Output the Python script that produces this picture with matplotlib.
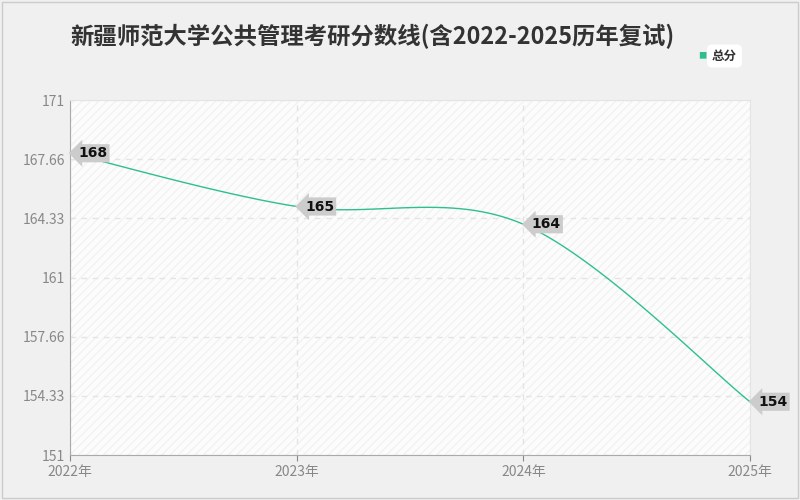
import numpy as np
import matplotlib
matplotlib.use("Agg")
import matplotlib.pyplot as plt

plt.rcParams['font.family'] = ['Noto Sans CJK SC', 'DejaVu Sans']

years = ["2022年", "2023年", "2024年", "2025年"]
scores = [168, 165, 164, 154]
yticks = [151, 154.33, 157.66, 161, 164.33, 167.66, 171]
ytick_labels = ["151", "154.33", "157.66", "161", "164.33", "167.66", "171"]
color = "#2fbf8f"


def catmull(xs, ys, n=40):
    px = np.concatenate([[xs[0]], xs, [xs[-1]]])
    py = np.concatenate([[ys[0]], ys, [ys[-1]]])
    ox, oy = [], []
    for i in range(1, len(px) - 2):
        t = np.linspace(0, 1, n)
        for p, out in ((px, ox), (py, oy)):
            p0, p1, p2, p3 = p[i - 1], p[i], p[i + 1], p[i + 2]
            out.extend(0.5 * (2 * p1 + (-p0 + p2) * t + (2 * p0 - 5 * p1 + 4 * p2 - p3) * t ** 2
                              + (-p0 + 3 * p1 - 3 * p2 + p3) * t ** 3))
    return ox, oy


fig = plt.figure(figsize=(8, 5), dpi=100, facecolor="#f0f0f0")
fig.add_artist(plt.Rectangle((2 / 800, 2 / 500), 796 / 800, 496 / 500, transform=fig.transFigure,
                             fill=False, ec="#cccccc", lw=1))
ax = fig.add_axes([70 / 800, 45 / 500, 680 / 800, 355 / 500])
ax.set_facecolor("#fcfcfc")
ax.add_patch(plt.Rectangle((0, 0), 1, 1, transform=ax.transAxes, fill=False,
                           hatch="////", edgecolor="#f2f2f2", lw=0))
x = np.arange(len(years))
sx, sy = catmull(x.astype(float), np.array(scores, float))
ax.plot(sx, sy, color=color, lw=1)
for xi, v in zip(x, scores):
    ax.annotate(str(v), (xi, v), xytext=(6, 0), textcoords="offset points",
                va="center", ha="left", fontsize=10, color="#111111", family="DejaVu Sans",
                fontweight="semibold",
                bbox=dict(boxstyle="larrow,pad=0.15", fc="#cccccc", ec="none"))
ax.set_xlim(0, 3)
ax.set_ylim(151, 171)
ax.set_xticks(x)
ax.set_xticklabels(years)
ax.set_yticks(yticks)
ax.set_yticklabels(ytick_labels)
ax.tick_params(colors="#888888", labelsize=10, length=4)
ax.tick_params(axis="y", length=0)
ax.grid(True, color="#e4e4e4", ls=(0, (4, 4)), lw=1)
for s in ("top", "right"):
    ax.spines[s].set_color("#e4e4e4")
ax.spines["left"].set_color("#aaaaaa")
ax.spines["bottom"].set_color("#aaaaaa")

fig.text(70 / 800, 1 - 36 / 500, "新疆师范大学公共管理考研分数线(含2022-2025历年复试)",
         fontsize=16.8, fontweight="bold", color="#333333", va="center")
fig.text(702 / 800, 1 - 56 / 500, "■", color=color, fontsize=6, va="center", ha="center")
fig.text(712 / 800, 1 - 56 / 500, "总分", color="#333333", fontsize=9, va="center",
         fontweight="bold", bbox=dict(boxstyle="round,pad=0.4", fc="white", ec="none"))
fig.savefig("out.png", dpi=100, facecolor=fig.get_facecolor())
